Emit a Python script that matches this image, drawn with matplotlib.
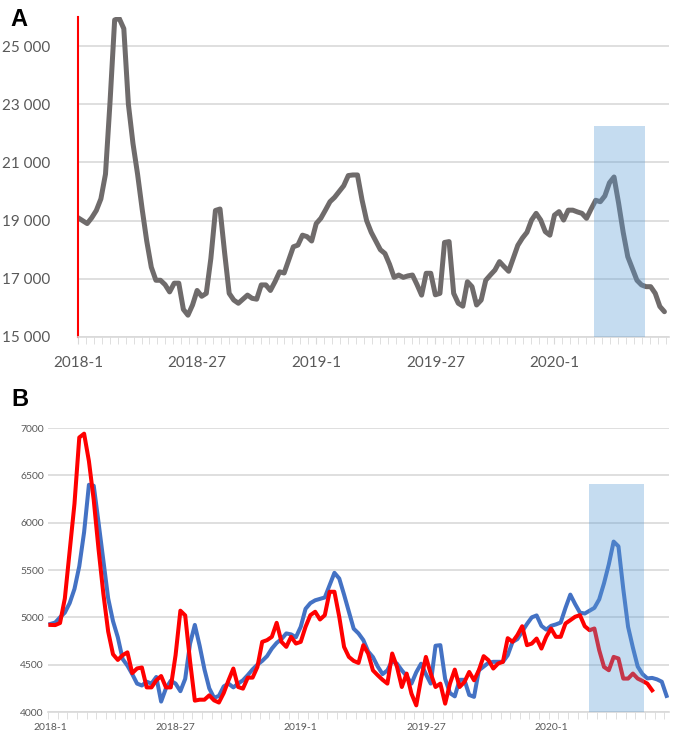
import numpy as np
import matplotlib
matplotlib.use('Agg')
import matplotlib.pyplot as plt
from matplotlib.patches import Rectangle

plt.rcParams['font.family'] = ['Lato', 'DejaVu Sans']

# week categories 2018-1 ... 2020-25
weeks = ([f'2018-{w}' for w in range(1, 53)] + [f'2019-{w}' for w in range(1, 53)]
         + [f'2020-{w}' for w in range(1, 26)])
label_weeks = ['2018-1', '2018-27', '2019-1', '2019-27', '2020-1']

# panel A, weekly totals
total = [19100, 19000, 18900, 19100, 19350, 19750, 20600, 23100, 25900, 25950,
         25600, 23000, 21650, 20600, 19400, 18300, 17400, 16950, 16950, 16800,
         16550, 16850, 16850, 15950, 15750, 16100, 16600, 16400, 16500, 17700,
         19350, 19400, 17900, 16500, 16270, 16160, 16300, 16440, 16330, 16300,
         16790, 16790, 16600, 16900, 17240, 17200, 17650, 18100, 18160, 18500,
         18450, 18300, 18900, 19080, 19360, 19650, 19800, 20000, 20200, 20550,
         20570, 20570, 19710, 19000, 18600, 18300, 18000, 17870, 17500, 17050,
         17130, 17050, 17100, 17130, 16800, 16440, 17190, 17190, 16450, 16500,
         18250, 18280, 16500, 16160, 16060, 16900, 16730, 16100, 16270, 16950,
         17130, 17300, 17590, 17420, 17260, 17700, 18150, 18400, 18600, 19020,
         19250, 19020, 18620, 18500, 19190, 19310, 19020, 19360, 19360, 19300,
         19250, 19080, 19400, 19700, 19650, 19850, 20300, 20500, 19600, 18600,
         17760, 17350, 16950, 16790, 16730, 16730, 16500, 16050, 15870]

# panel B
blue = [4930, 4945, 5000, 5050, 5150, 5300, 5540, 5900, 6400, 6390,
        6000, 5600, 5200, 4960, 4790, 4560, 4490, 4400, 4300, 4280,
        4320, 4300, 4370, 4110, 4250, 4330, 4300, 4220, 4350, 4720,
        4920, 4700, 4450, 4250, 4150, 4170, 4270, 4300, 4260, 4300,
        4335, 4390, 4450, 4500, 4540, 4590, 4670, 4730, 4770, 4830,
        4820, 4790, 4900, 5090, 5150, 5180, 5195, 5210, 5340, 5470,
        5410, 5240, 5060, 4880, 4830, 4760, 4640, 4580, 4480, 4400,
        4440, 4540, 4510, 4440, 4380, 4300, 4420, 4510, 4400, 4300,
        4700, 4706, 4350, 4200, 4165, 4340, 4340, 4180, 4160, 4440,
        4480, 4520, 4530, 4530, 4530, 4600, 4740, 4770, 4850, 4930,
        5000, 5020, 4910, 4870, 4910, 4925, 4945, 5100, 5240, 5140,
        5050, 5040, 5070, 5100, 5190, 5360, 5560, 5800, 5750, 5300,
        4900, 4680, 4480, 4400, 4355, 4360, 4345, 4320, 4170]

red = [4920, 4918, 4940, 5200, 5700, 6200, 6900, 6940, 6650, 6240,
       5720, 5250, 4850, 4610, 4550, 4600, 4630, 4410, 4460, 4470,
       4260, 4260, 4335, 4380, 4260, 4260, 4600, 5070, 5020, 4540,
       4120, 4130, 4130, 4176, 4123, 4100, 4200, 4335, 4459, 4264,
       4247, 4363, 4363, 4476, 4741, 4759, 4794, 4942, 4741, 4688,
       4794, 4723, 4741, 4900, 5023, 5059, 4977, 5023, 5270, 5270,
       5006, 4688, 4582, 4540, 4518, 4706, 4618, 4440, 4388, 4340,
       4300, 4618, 4476, 4264, 4406, 4194, 4070, 4353, 4582, 4406,
       4264, 4300, 4088, 4300, 4448, 4264, 4317, 4423, 4335, 4441,
       4590, 4547, 4459, 4512, 4530, 4780, 4741, 4812, 4906, 4706,
       4723, 4776, 4670, 4794, 4882, 4794, 4794, 4935, 4970, 5006,
       5023, 4906, 4864, 4882, 4653, 4476, 4441, 4582, 4565, 4353,
       4353, 4406, 4353, 4328, 4300, 4229]

# shaded period (category positions)
boxA = (112.7, 123.8, 22250)
boxB = (111.9, 123.3, 6410)

grid_c = '#d9d9d9'
txt_c = '#595959'

fig = plt.figure(figsize=(6.85, 7.39), dpi=100)
axA = fig.add_axes([78/685, 1-337/739, 591/685, 320/739])
axB = fig.add_axes([48/685, 1-712/739, 621/685, 284/739])

label_pos = [weeks.index(w) for w in label_weeks]

# ---- A
axA.plot(np.arange(len(total)), total, color='#6f6b6b', lw=3.6,
         solid_joinstyle='round', solid_capstyle='round', zorder=2)
axA.add_patch(Rectangle((boxA[0], 15000), boxA[1]-boxA[0], boxA[2]-15000,
                        facecolor='#5b9bd5', alpha=0.35, lw=0, zorder=3))
axA.set_ylim(15000, 26000)
axA.set_xlim(0, 129)
axA.set_yticks(range(15000, 26000, 2000))
axA.set_yticklabels([f'{v:,}'.replace(',', ' ') for v in range(15000, 26000, 2000)])
axA.set_xticks(label_pos)
axA.set_xticklabels(label_weeks)
axA.set_xticks(np.arange(0, 130, 26/15), minor=True)
axA.tick_params(axis='y', length=0, pad=20, labelsize=11, labelcolor=txt_c)
axA.tick_params(axis='x', which='both', length=5, color=grid_c, pad=9,
                labelsize=11, labelcolor=txt_c)
axA.grid(axis='y', color=grid_c, lw=1.2)
for s in ['top', 'right']:
    axA.spines[s].set_visible(False)
axA.spines['bottom'].set_color(grid_c)
axA.spines['bottom'].set_linewidth(1.2)
axA.spines['left'].set_color('red')
axA.spines['left'].set_linewidth(1.5)
axA.set_axisbelow(True)

# ---- B
axB.plot(np.arange(len(blue)), blue, color='#4472c4', lw=2.9,
         solid_joinstyle='round', zorder=2)
axB.plot(np.arange(len(red)), red, color='#ff0000', lw=2.9,
         solid_joinstyle='round', zorder=2)
axB.add_patch(Rectangle((boxB[0], 4000), boxB[1]-boxB[0], boxB[2]-4000,
                        facecolor='#5b9bd5', alpha=0.35, lw=0, zorder=3))
axB.set_ylim(4000, 7000)
axB.set_xlim(-0.5, 128.5)
axB.set_yticks(range(4000, 7001, 500))
axB.set_xticks(label_pos)
axB.set_xticklabels(label_weeks)
axB.set_xticks(np.arange(-0.5, 129, 2), minor=True)
axB.tick_params(axis='y', length=0, pad=3, labelsize=7.5, labelcolor=txt_c)
axB.tick_params(axis='x', which='major', length=0, pad=8,
                labelsize=7.5, labelcolor=txt_c)
axB.tick_params(axis='x', which='minor', length=5, color=grid_c)
axB.grid(axis='y', color=grid_c, lw=1.2)
for s in ['top', 'right', 'left']:
    axB.spines[s].set_visible(False)
axB.spines['bottom'].set_color(grid_c)
axB.spines['bottom'].set_linewidth(1.2)
axB.set_axisbelow(True)

fig.text(10/685, 1-26/739, 'A', fontsize=17, fontweight='bold', family='Liberation Sans')
fig.text(11/685, 1-406/739, 'B', fontsize=17, fontweight='bold', family='Liberation Sans')

fig.savefig('out.png', dpi=100)
